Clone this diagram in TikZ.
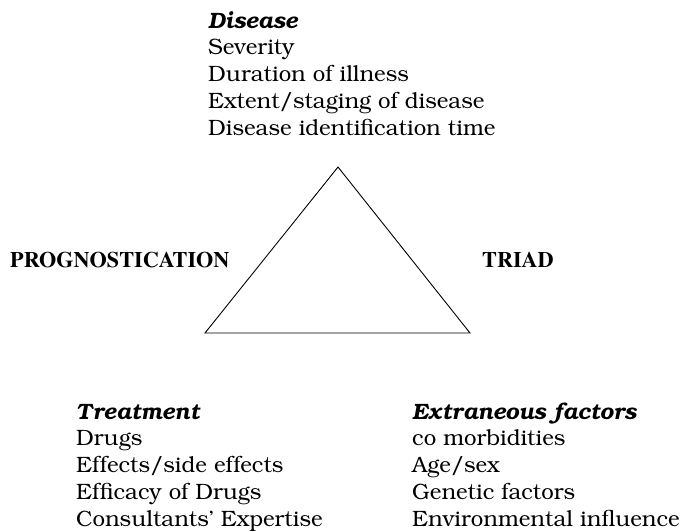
\documentclass[tikz,border=0pt]{standalone}
\usepackage[T1]{fontenc}
\usepackage{bookman}
\newcommand\linesblock[1]{\vtop{\lineskiplimit=-100pt\baselineskip=26.8pt\lineskip=0pt #1}}
\begin{document}
\begin{tikzpicture}[x=1pt,y=-1pt,
  listtext/.style={anchor=base west, inner sep=0pt,
    font=\fontsize{22.2}{26.8}\selectfont},
  bigword/.style={anchor=base west, inner sep=0pt,
    font=\fontfamily{ptm}\fontsize{22.2}{26}\selectfont\bfseries}]
\useasboundingbox (0,0) rectangle (684,530);
\coordinate (apex) at (338,167);
\coordinate (bl) at (205,333);
\coordinate (br) at (470,333);
\draw[line width=0.9pt, line join=miter] (apex) -- (bl) -- (br) -- cycle;
\node[listtext] (disease) at (208,28) {\linesblock{\hbox{\textbf{\textit{Disease}}}\hbox{Severity}\hbox{Duration of illness}\hbox{Extent/staging of disease}\hbox{Disease identification time}}};
\node[bigword] (prog) at (10,267) {PROGNOSTICATION};
\node[bigword] (triad) at (482,267) {TRIAD};
\node[listtext] (treat) at (76,419) {\linesblock{\hbox{\textbf{\textit{Treatment}}}\hbox{Drugs}\hbox{Effects/side effects}\hbox{Efficacy of Drugs}\hbox{Consultants' Expertise}}};
\node[listtext] (extra) at (412,419) {\linesblock{\hbox{\textbf{\textit{Extraneous factors}}}\hbox{co morbidities}\hbox{Age/sex}\hbox{Genetic factors}\hbox{Environmental influence}}};
\end{tikzpicture}
\end{document}
